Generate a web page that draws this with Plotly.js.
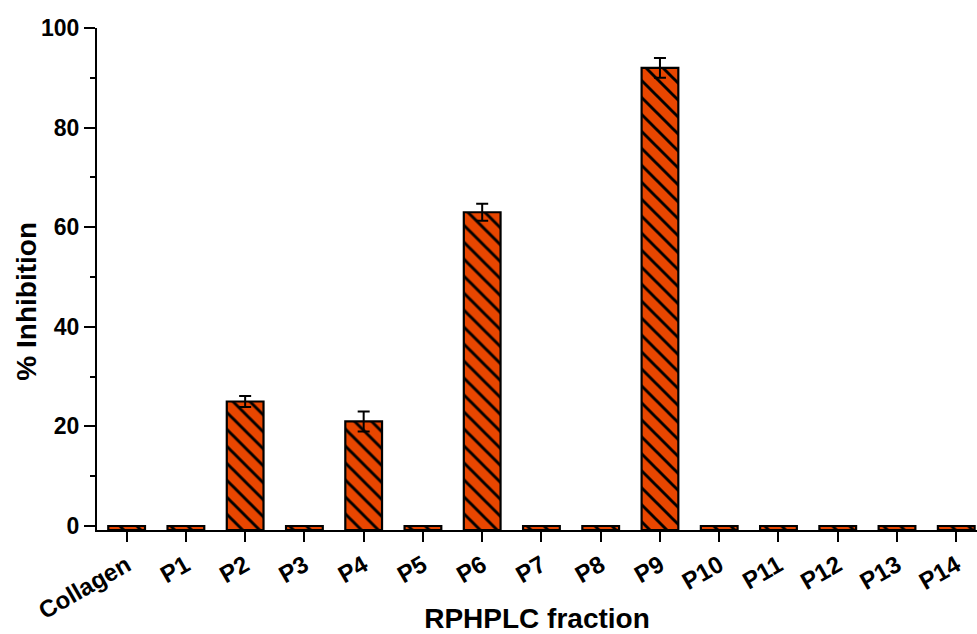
<!DOCTYPE html>
<html>
<head>
<meta charset="utf-8">
<script src="https://cdn.plot.ly/plotly-3.0.1.min.js"></script>
<style>html,body{margin:0;padding:0;background:#fff;}#chart{width:977px;height:634px;}</style>
</head>
<body>
<div id="chart"></div>
<script>
// Data
const categories = ["Collagen","P1","P2","P3","P4","P5","P6","P7","P8","P9","P10","P11","P12","P13","P14"];
const inhibition = [0, 0, 25, 0, 21, 0, 63, 0, 0, 92, 0, 0, 0, 0, 0];
const errors     = [0, 0, 1.1, 0, 2.0, 0, 1.7, 0, 0, 2.0, 0, 0, 0, 0, 0];
const yTickVals  = [0, 20, 40, 60, 80, 100];

// Bars start at the bottom of the axis (as in the original software)
const AXIS_MIN = -0.8;
const ORANGE = "rgb(232,70,0)";

const trace = {
  type: "bar",
  x: categories,
  y: inhibition.map(v => v - AXIS_MIN),
  base: AXIS_MIN,
  width: 0.62,
  marker: {
    color: ORANGE,
    line: {color: "black", width: 2.2},
    pattern: {shape: "\\", fgcolor: "black", bgcolor: ORANGE, size: 12, solidity: 0.24}
  },
  error_y: {type: "data", array: errors, visible: true, color: "black", thickness: 2, width: 6},
  hoverinfo: "x+text",
  text: inhibition.map(String),
  textposition: "none"
};

const font = {family: "'Liberation Sans', Arial, sans-serif", color: "black"};

const layout = {
  width: 977, height: 634,
  margin: {l: 97, r: 0, t: 28, b: 104},
  paper_bgcolor: "white", plot_bgcolor: "white",
  showlegend: false,
  font: font,
  xaxis: {
    type: "category",
    range: [-0.5, 14.35],
    showline: true, linecolor: "black", linewidth: 2,
    ticks: "outside", ticklen: 10, tickwidth: 2, tickcolor: "black",
    tickangle: -30,
    tickfont: {family: font.family, size: 24, color: "black", weight: "bold"},
    showgrid: false, zeroline: false,
    title: {text: "<b>RPHPLC fraction</b>", font: {family: font.family, size: 28, color: "black"}, standoff: 8}
  },
  yaxis: {
    range: [AXIS_MIN, 100],
    tickvals: yTickVals,
    ticktext: yTickVals.map(v => "<b>" + v + "</b>"),
    showline: true, linecolor: "black", linewidth: 2,
    ticks: "outside", ticklen: 11, tickwidth: 2, tickcolor: "black",
    minor: {dtick: 10, tick0: 0, ticks: "outside", ticklen: 5, tickwidth: 2, tickcolor: "black", showgrid: false},
    tickfont: {family: font.family, size: 23, color: "black"},
    showgrid: false, zeroline: false,
    title: {text: ""}
  },
  annotations: [{
    text: "<b>% Inhibition</b>",
    textangle: -90,
    xref: "paper", yref: "paper",
    x: -0.0795, y: 0.455,
    xanchor: "center", yanchor: "middle",
    showarrow: false,
    font: {family: font.family, size: 28, color: "black"}
  }]
};

Plotly.newPlot("chart", [trace], layout, {displayModeBar: false, staticPlot: true});
</script>
</body>
</html>
